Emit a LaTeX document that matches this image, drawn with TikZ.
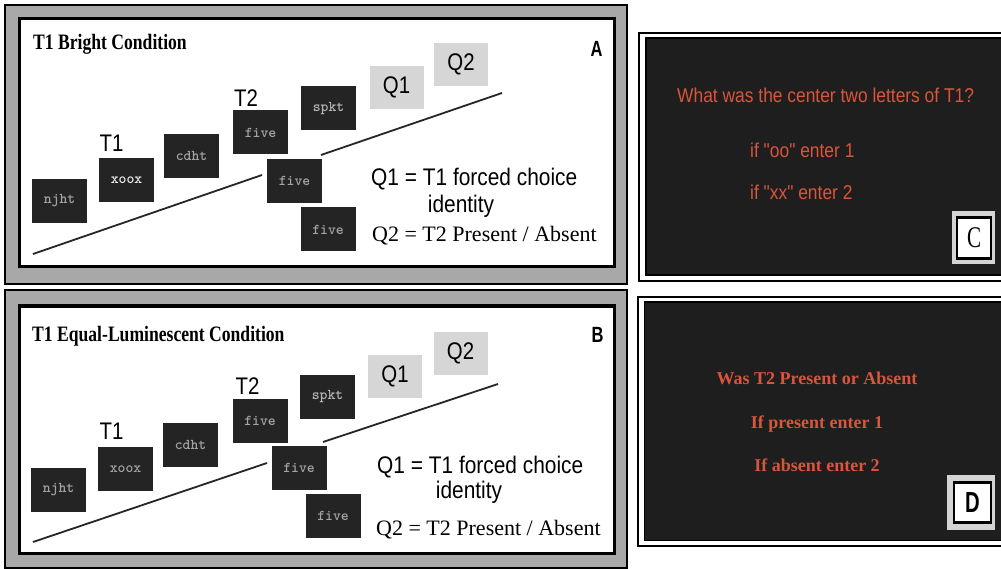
\documentclass[tikz,border=0pt]{standalone}
\usepackage{fontspec}
\usepackage{graphicx}
\newfontfamily\sansF{Liberation Sans}
\newfontfamily\serifF{Liberation Serif}
\definecolor{boxdark}{HTML}{242424}
\definecolor{wordgray}{HTML}{A4A4A4}
\definecolor{wordwhite}{HTML}{EEEEEE}
\definecolor{qgray}{HTML}{D6D6D6}
\definecolor{bandgray}{HTML}{A8A8A8}
\definecolor{screen}{HTML}{1E1E1E}
\definecolor{redtext}{HTML}{D9553C}
\definecolor{taggray}{HTML}{D4D4D4}
\newcommand{\hsc}[2]{\scalebox{#1}[1]{#2}}
\begin{document}
\begin{tikzpicture}[x=1pt,y=-1pt,
  word/.style={fill=boxdark, minimum width=55pt, minimum height=44pt, inner sep=0pt,
    font=\ttfamily\bfseries\fontsize{15}{17}\selectfont, text=wordgray},
  qbox/.style={fill=qgray, minimum width=54pt, minimum height=43pt, inner sep=0pt,
    font=\sansF\fontsize{24}{28}\selectfont},
  lbl/.style={inner sep=0pt, font=\sansF\fontsize{24}{28}\selectfont},
  title/.style={inner sep=0pt, font=\serifF\bfseries\fontsize{22}{26}\selectfont},
  qtext/.style={inner sep=0pt, font=\serifF\fontsize{22}{26}\selectfont},
  letter/.style={inner sep=0pt, font=\sansF\bfseries\fontsize{22}{26}\selectfont},
  timeline/.style={draw=black!85, line width=1.8pt},
  ctext/.style={inner sep=0pt, text=redtext, font=\sansF\fontsize{20}{24}\selectfont},
  dtext/.style={inner sep=0pt, text=redtext, font=\serifF\bfseries\fontsize{18}{22}\selectfont},
  tagbg/.style={fill=taggray, inner sep=0pt},
  tag/.style={draw=black, line width=2.5pt, fill=white, inner sep=0pt}
]
\path[use as bounding box] (0,0) rectangle (1001,569);
\clip (0,0) rectangle (1001,569);

% ---------------- Panel A ----------------
\path[draw=black, line width=2pt, fill=bandgray] (5,5) rectangle (627,284);
\path[draw=black, line width=3pt, fill=white] (19,19) rectangle (614,267);

\node[title, anchor=base west] (aTitle) at (33,50) {\hsc{0.8}{T1 Bright Condition}};
\node[letter] (aLetter) at (596.5,49) {\hsc{0.75}{A}};

\coordinate (aS) at (33,254);
\coordinate (aG1) at (262,175);
\coordinate (aG2) at (321,155);
\coordinate (aE) at (502,93);
\draw[timeline] (aS) -- (aG1);
\draw[timeline] (aG2) -- (aE);

\node[word] (aW1) at (59.5,201) {njht};
\node[word, text=wordwhite] (aW2) at (126.5,180) {xoox};
\node[word] (aW3) at (191.5,156) {cdht};
\node[word] (aW4) at (260.5,132.5) {five};
\node[word] (aW5) at (294.5,181) {five};
\node[word, text=wordgray!80] (aW6) at (328.5,108.5) {spkt};
\node[word] (aW7) at (328,229.5) {five};
\node[qbox] (aQ1) at (396.5,87.5) {\hsc{0.85}{Q1}};
\node[qbox] (aQ2) at (461,64.5) {\hsc{0.85}{Q2}};

\node[lbl] (aT1) at (111.5,143) {\hsc{0.85}{T1}};
\node[lbl] (aT2) at (246,98.5) {\hsc{0.85}{T2}};

\node[lbl, anchor=base west] (aL1) at (371,186) {\hsc{0.87}{Q1 = T1 forced choice}};
\node[lbl, anchor=base] (aL2) at (461,213) {\hsc{0.87}{identity}};
\node[qtext, anchor=base west] (aL3) at (372,242) {Q2 = T2 Present / Absent};

% ---------------- Panel B ----------------
\path[draw=black, line width=2pt, fill=bandgray] (5,290) rectangle (627,568);
\path[draw=black, line width=3pt, fill=white] (19,306) rectangle (614,553);

\node[title, anchor=base west] (bTitle) at (32,341) {\hsc{0.8}{T1 Equal-Luminescent Condition}};
\node[letter] (bLetter) at (597.5,334.5) {\hsc{0.75}{B}};

\coordinate (bS) at (33,542);
\coordinate (bG1) at (267,463);
\coordinate (bG2) at (323,442);
\coordinate (bE) at (498,384);
\draw[timeline] (bS) -- (bG1);
\draw[timeline] (bG2) -- (bE);

\node[word] (bW1) at (58.5,490) {njht};
\node[word] (bW2) at (125.5,469) {xoox};
\node[word] (bW3) at (190.5,445) {cdht};
\node[word] (bW4) at (260,420.5) {five};
\node[word] (bW5) at (299,467.5) {five};
\node[word, text=wordgray!80] (bW6) at (327.5,396.5) {spkt};
\node[word] (bW7) at (333,516) {five};
\node[qbox] (bQ1) at (395,376) {\hsc{0.85}{Q1}};
\node[qbox] (bQ2) at (460.5,353.5) {\hsc{0.85}{Q2}};

\node[lbl] (bT1) at (111.5,431.5) {\hsc{0.85}{T1}};
\node[lbl] (bT2) at (247.5,386.5) {\hsc{0.85}{T2}};

\node[lbl, anchor=base west] (bL1) at (377,473) {\hsc{0.87}{Q1 = T1 forced choice}};
\node[lbl, anchor=base] (bL2) at (469,498) {\hsc{0.87}{identity}};
\node[qtext, anchor=base west] (bL3) at (376,535) {Q2 = T2 Present / Absent};

% ---------------- Panel C ----------------
\path[draw=black, line width=2pt, fill=white] (639,33) rectangle (1010,281);
\path[draw=black, line width=1.8pt, fill=screen] (646,38) rectangle (1006,275);

\node[ctext, anchor=base west] (cL1) at (677,103) {\hsc{0.87}{What was the center two letters of T1?}};
\node[ctext, anchor=base west] (cL2) at (750,158) {\hsc{0.87}{if "oo" enter 1}};
\node[ctext, anchor=base west] (cL3) at (750,200) {\hsc{0.87}{if "xx" enter 2}};

\node[tagbg, minimum width=43pt, minimum height=53pt] (cTagBg) at (973.5,237.5) {};
\node[tag, minimum width=34pt, minimum height=41pt, font=\serifF\fontsize{30}{32}\selectfont] (cTag) at (974,238) {\hsc{0.7}{C}};

% ---------------- Panel D ----------------
\path[draw=black, line width=2pt, fill=white] (638,297) rectangle (1010,546);
\path[draw=black, line width=1.8pt, fill=screen] (644.5,302) rectangle (1006,540.5);

\node[dtext, anchor=base] (dL1) at (817,384) {Was T2 Present or Absent};
\node[dtext, anchor=base] (dL2) at (817,428) {If present enter 1};
\node[dtext, anchor=base] (dL3) at (817,471) {If absent enter 2};

\node[tagbg, minimum width=48pt, minimum height=55pt] (dTagBg) at (971,502.5) {};
\node[tag, minimum width=37pt, minimum height=40pt, font=\sansF\bfseries\fontsize{29}{32}\selectfont] (dTag) at (972.5,502.5) {\hsc{0.7}{D}};

\end{tikzpicture}
\end{document}
